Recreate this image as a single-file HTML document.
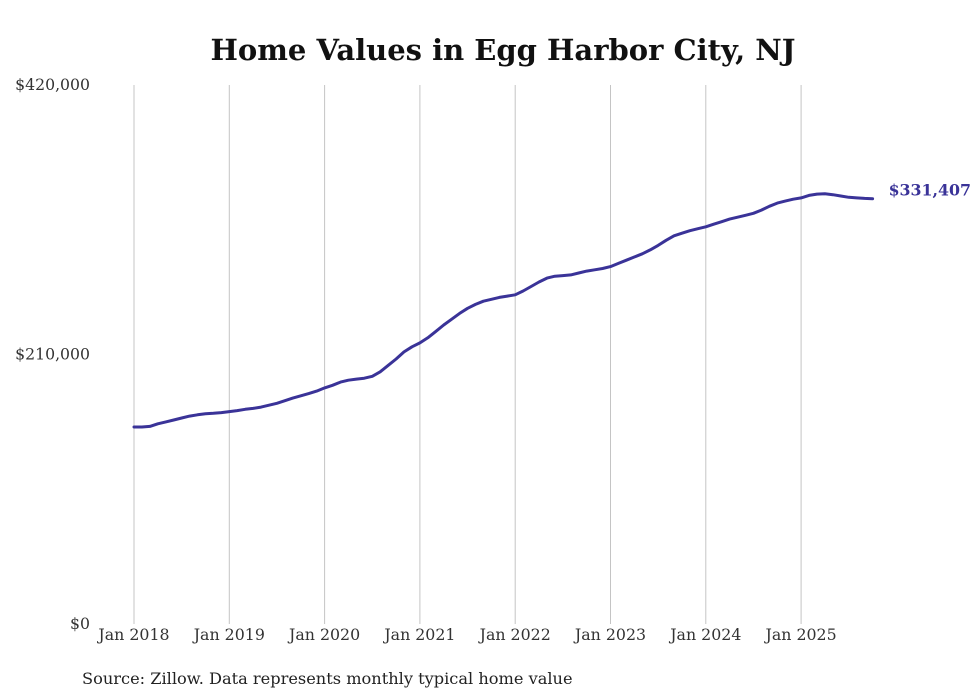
<!DOCTYPE html>
<html><head><meta charset="utf-8"><style>
body{margin:0;background:#fff;}
svg{display:block;font-family:"DejaVu Serif",serif;}
</style></head><body>
<svg id="chart" width="980" height="699" viewBox="0 0 980 699">
<text x="503" y="60" text-anchor="middle" font-size="29" font-weight="bold" fill="#111">Home Values in Egg Harbor City, NJ</text>
<g id="grid"></g><g id="yaxis"></g><g id="xaxis"></g><g id="series"></g>
<text x="82" y="684" font-size="16.2" fill="#222">Source: Zillow. Data represents monthly typical home value</text>
</svg>
<script>
const yTicks=[0,210000,420000];
const yTickLabels=["$0","$210,000","$420,000"];
const xYears=[2018,2019,2020,2021,2022,2023,2024,2025];
const xTickLabels=["Jan 2018","Jan 2019","Jan 2020","Jan 2021","Jan 2022","Jan 2023","Jan 2024","Jan 2025"];
const startYear=2018;
const values=[153.5,153.5,154,156,157.5,159,160.5,162,163,163.8,164.2,164.7,
165.5,166.3,167.3,168,169,170.5,172,174,176,177.8,179.5,181.5,
184,186,188.5,190,190.8,191.5,193,196.5,201.5,206.5,212,216,
219,223,228,233,237.5,242,246,249,251.5,253,254.5,255.5,
256.5,259.5,263,266.5,269.5,271,271.5,272,273.5,275,276,277,
278.5,281,283.5,286,288.5,291.5,295,299,302.5,304.5,306.5,308,
309.5,311.5,313.5,315.5,317,318.5,320,322.5,325.5,328,329.5,331,
332,334,335,335.2,334.5,333.5,332.5,332,331.6,331.407];
const lastLabel="$331,407";
const NS="http://www.w3.org/2000/svg";
const x=t=>134+(t-startYear)*95.3;
const y=v=>624-v/420000*539;
function mk(tag,attrs,parent){const e=document.createElementNS(NS,tag);for(const k in attrs)e.setAttribute(k,attrs[k]);parent.appendChild(e);return e;}
const grid=document.getElementById('grid'),ya=document.getElementById('yaxis'),xa=document.getElementById('xaxis'),se=document.getElementById('series');
xYears.forEach((yr,i)=>{
 const l=mk('line',{x1:x(yr),x2:x(yr),y1:85,y2:624,stroke:'#c4c4c4','stroke-width':1},grid);
 
 
 const t=mk('text',{x:x(yr),y:640,'text-anchor':'middle','font-size':15.8,fill:'#333'},xa);
 t.textContent=xTickLabels[i];
 
 
});
yTicks.forEach((v,i)=>{
 const t=mk('text',{x:90,y:y(v)+5,'text-anchor':'end','font-size':15.7,fill:'#333'},ya);
 t.textContent=yTickLabels[i];
 
 
});
const d=values.map((v,i)=>(i?'L':'M')+x(startYear+i/12).toFixed(1)+','+y(v*1000).toFixed(1)).join(' ');
const p=mk('path',{d:d,fill:'none',stroke:'#3a3398','stroke-width':3,'stroke-linejoin':'round','stroke-linecap':'round'},se);


const n=values.length-1;
const lt=mk('text',{x:x(startYear+n/12)+16,y:y(values[n]*1000)-3,'font-size':15.8,'font-weight':'bold',fill:'#3a3398'},se);
lt.textContent=lastLabel;


</script>
</body></html>
